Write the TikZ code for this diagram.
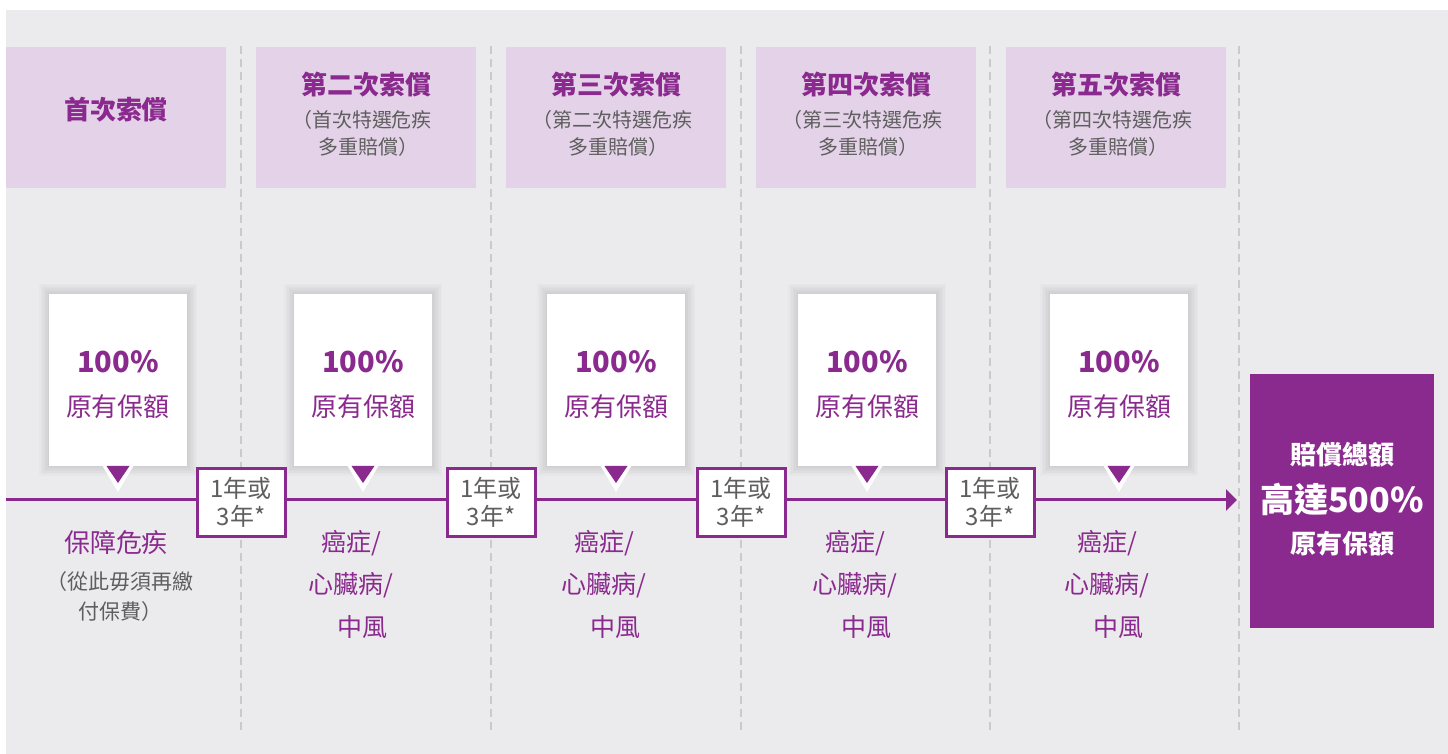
\documentclass[tikz,border=0pt]{standalone}
\usepackage{fontspec}
\setmainfont{Noto Sans CJK TC}
\usetikzlibrary{arrows.meta}
\definecolor{bg}{HTML}{EBEBED}
\definecolor{lav}{HTML}{E4D3E8}
\definecolor{pur}{HTML}{8B2A8E}
\definecolor{gtxt}{HTML}{5E5E5E}
\definecolor{dashc}{HTML}{CACACC}
\begin{document}
\begin{tikzpicture}[x=0.5pt,y=-0.5pt]
\tikzset{
 lbl/.style={inner sep=0pt, outer sep=0pt},
 hdrbox/.style={fill=lav, minimum width=110pt, minimum height=70.5pt, inner sep=0pt},
 hdr/.style={lbl, text=pur, font=\bfseries\fontsize{13}{15}\selectfont},
 sub/.style={lbl, text=gtxt, font=\fontsize{10}{12}\selectfont},
 callbox/.style={fill=white, minimum width=69pt, minimum height=86pt, inner sep=0pt},
 pct/.style={lbl, text=pur, font=\bfseries\fontsize{14.5}{17}\selectfont},
 amt/.style={lbl, text=pur, font=\fontsize{13}{15}\selectfont},
 perbox/.style={draw=pur, line width=1.5pt, fill=white, minimum width=44pt, minimum height=34pt, inner sep=0pt, align=center, text=gtxt, font=\fontsize{12}{14}\selectfont},
 ill/.style={lbl, text=pur, anchor=west, font=\fontsize{12.5}{15}\selectfont},
 note/.style={lbl, text=gtxt, font=\fontsize{10.5}{12}\selectfont},
 finbox/.style={fill=pur, minimum width=92pt, minimum height=127pt, inner sep=0pt},
 fin/.style={lbl, text=white, font=\bfseries\fontsize{13}{15}\selectfont},
 sepline/.style={draw=dashc, line width=1.3pt, dash pattern=on 4pt off 2.5pt},
 tline/.style={draw=pur, line width=1.5pt, -{Triangle[length=5.5pt,width=10.5pt]}},
}
\useasboundingbox (0,0) rectangle (1448,754);
\fill[white] (0,0) rectangle (1448,754);
\fill[bg] (6,10) rectangle (1448,754);
% separators
\foreach \sx in {241,491,741,990,1239}
  \draw[sepline] (\sx,46) -- (\sx,734);
% header boxes
\foreach \i/\hx in {1/116,2/366,3/616,4/866,5/1116}
  \node[hdrbox] (h\i) at (\hx,117.5) {};
% callouts with soft shadow and pointer
\foreach \i/\cx in {1/118,2/363,3/616,4/867,5/1119}{
  \foreach \s in {10,8.5,7,5.5,4,2.5,1}
    \fill[black,opacity=0.014] (\cx-69-\s,294-\s) rectangle (\cx+69+\s,466+\s);
  \node[callbox] (c\i) at (\cx,380) {};
  \fill[white] (\cx-16,465) -- (\cx+16,465) -- (\cx,492) -- cycle;
  \fill[pur] (\cx-11.5,466) -- (\cx+11.5,466) -- (\cx,483) -- cycle;
  \node[pct] (cp\i) at (\cx,362) {100\%};
  \node[amt] (ca\i) at (\cx,407) {原有保額};
}
% timeline
\coordinate (tstart) at (6,500);
\coordinate (tend) at (1237,500);
\draw[tline] (tstart) -- (tend);
% period boxes
\foreach \i/\px in {1/241,2/491,3/741,4/990}
  \node[perbox] (p\i) at (\px,502.5) {1年或\\3年*};
% final box
\node[finbox] (fb) at (1342,501) {};
\node[fin] (f1) at (1342,455) {賠償總額};
\node[fin, font=\bfseries\fontsize{17}{19}\selectfont] (f2) at (1342,499) {高達500\%};
\node[fin] (f3) at (1342,544) {原有保額};
% header texts
\node[hdr] (ht1) at (116,110) {首次索償};
\foreach \i/\hx/\ord/\prev in {2/366/二/首次,3/616/三/第二次,4/866/四/第三次,5/1116/五/第四次}{
  \node[hdr] (ht\i) at (\hx,85) {第\ord 次索償};
  \node[sub] (hs\i) at (\hx-4,120) {（\prev 特選危疾};
  \node[sub] (hm\i) at (\hx+2,147) {多重賠償）};
}
% texts below the line
\node[amt] (b1) at (116,543) {保障危疾};
\node[note] (n1) at (120,582) {（從此毋須再繳};
\node[note] (n2) at (120,612) {付保費）};
\foreach \i/\cx in {2/363,3/616,4/867,5/1119}{
  \node[ill] (ia\i) at (\cx-42,543) {癌症/};
  \node[ill] (ib\i) at (\cx-55,585) {心臟病/};
  \node[ill] (ic\i) at (\cx-26,627) {中風};
}
\end{tikzpicture}
\end{document}
